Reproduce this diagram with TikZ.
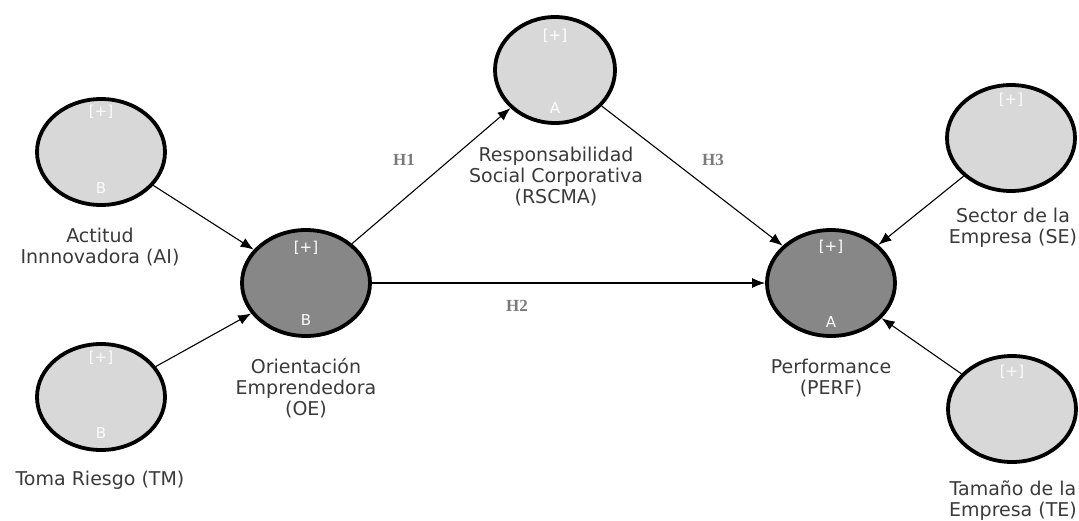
\documentclass[tikz,border=0pt]{standalone}
\usepackage{fontspec}
\setmainfont{DejaVu Sans}
\newfontfamily\hfont{Liberation Serif}
\usetikzlibrary{shapes.geometric,arrows.meta}
\definecolor{lightfill}{HTML}{D8D8D8}
\definecolor{darkfill}{HTML}{878787}
\definecolor{txt}{HTML}{3A3A3A}
\definecolor{hcol}{HTML}{7A7A7A}
\tikzset{
  lv/.style={ellipse, draw=black, line width=3.8pt, minimum width=128pt, minimum height=106pt, inner sep=0pt},
  lightlv/.style={lv, fill=lightfill},
  darklv/.style={lv, fill=darkfill},
  inner/.style={text=white, font=\fontsize{15}{17}\selectfont, inner sep=0pt},
  faint/.style={text=white!90!lightfill, font=\fontsize{15}{17}\selectfont, inner sep=0pt},
  lbl/.style={text=txt, align=center, font=\fontsize{19}{21}\selectfont, inner sep=0pt},
  hyp/.style={text=hcol, font=\hfont\bfseries\fontsize{17}{19}\selectfont, inner sep=0pt},
  conn/.style={line width=1.1pt, -{Latex[length=13pt,width=10pt]}},
}
\begin{document}
\begin{tikzpicture}[x=1pt,y=-1pt]
\useasboundingbox (0,0) rectangle (1079,520);
% constructs
\node[lightlv] (ai) at (101,152) {};
\node[lightlv] (tm) at (101,397) {};
\node[darklv]  (oe) at (306,283) {};
\node[lightlv, minimum width=120pt] (rs) at (555,70) {};
\node[darklv]  (pf) at (831,283) {};
\node[lightlv] (se) at (1011,138) {};
\node[lightlv] (te) at (1012,409) {};
% inner labels
\node[faint] (aip) at (101,112) {[+]};
\node[faint] (aib) at (101,188) {B};
\node[faint] (tmp) at (101,358) {[+]};
\node[faint] (tmb) at (101,433) {B};
\node[inner] (oep) at (306,248) {[+]};
\node[inner] (oeb) at (306,320) {B};
\node[inner] (rsp) at (555,36) {[+]};
\node[inner] (rsa) at (555,108) {A};
\node[inner] (pfp) at (831,247) {[+]};
\node[inner] (pfa) at (831,322) {A};
\node[faint] (sep) at (1011,100) {[+]};
\node[faint] (tep) at (1012,372) {[+]};
% outer labels
\node[lbl] (ail) at (100,247) {Actitud\\Innnovadora (AI)};
\node[lbl] (tml) at (100,480) {Toma Riesgo (TM)};
\node[lbl] (oel) at (306,388) {Orientación\\Emprendedora\\(OE)};
\node[lbl] (rsl) at (556,177) {Responsabilidad\\Social Corporativa\\(RSCMA)};
\node[lbl] (pfl) at (831,378) {Performance\\(PERF)};
\node[lbl] (sel) at (1013,228) {Sector de la\\Empresa (SE)};
\node[lbl] (tel) at (1013,501) {Tamaño de la\\Empresa (TE)};
% connectors
\draw[conn] (ai) -- (oe);
\draw[conn] (tm) -- (oe);
\draw[conn] (oe) -- (rs);
\draw[conn] (oe) -- (pf);
\draw[conn] (rs) -- (pf);
\draw[conn] (se) -- (pf);
\draw[conn] (te) -- (pf);
% hypothesis labels
\node[hyp] (h1) at (404,160) {H1};
\node[hyp] (h2) at (517,306) {H2};
\node[hyp] (h3) at (713,160) {H3};
\end{tikzpicture}
\end{document}
